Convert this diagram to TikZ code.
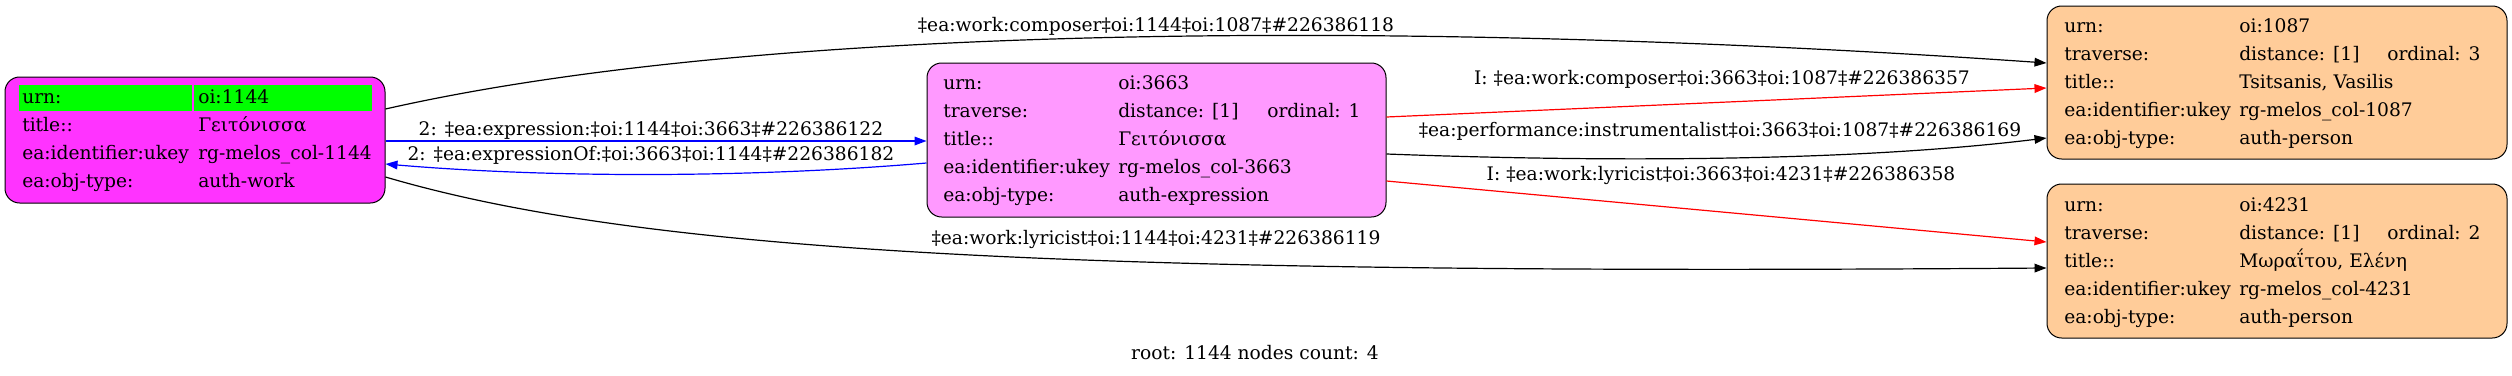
\documentclass[tikz,border=0pt]{standalone}
\usepackage{fontspec}
\setmainfont{DejaVu Serif}
\usetikzlibrary{arrows.meta}
\definecolor{cwork}{HTML}{FF33FF}
\definecolor{cexpr}{HTML}{FF99FF}
\definecolor{cpers}{HTML}{FFCC99}
\definecolor{chead}{HTML}{00FF00}
\definecolor{cblue}{HTML}{0000FF}
\definecolor{cred}{HTML}{FF0000}
\begin{document}
\begin{tikzpicture}[x=0.75pt,y=-0.75pt,font=\fontsize{14}{16}\selectfont,
  box/.style={draw=black,line width=0.75pt,rounded corners=11pt,inner sep=0pt},
  txt/.style={anchor=base west,inner sep=0pt},
  lbl/.style={anchor=base,inner sep=0pt},
  conn/.style={line width=0.9pt,-{Triangle[length=9pt,width=6.5pt]}}]
\useasboundingbox (0,0) rectangle (2512,375);
\fill[white] (0,0) rectangle (2512,375);

% boxes
\node[box,fill=cwork,minimum width=285pt,minimum height=94.5pt] (n1144) at (195,140) {};
\node[box,fill=cexpr,minimum width=344.25pt,minimum height=115.5pt] (n3663) at (1156.5,140) {};
\node[box,fill=cpers,minimum width=345pt,minimum height=114.75pt] (n1087) at (2277,82.5) {};
\node[box,fill=cpers,minimum width=345pt,minimum height=115.5pt] (n4231) at (2277,261) {};

% header cells of root
\node[fill=chead,inner sep=0pt,minimum width=129.75pt,minimum height=19.5pt] (h1) at (105.5,98) {};
\node[fill=chead,inner sep=0pt,minimum width=133.5pt,minimum height=19.5pt] (h2) at (283,98) {};

% node 1144 text
\node[txt] (a1) at (22,103) {urn:};
\node[txt] (a2) at (198,103) {oi:1144};
\node[txt] (a3) at (22,131) {title::};
\node[txt] (a4) at (198,131) {Γειτόνισσα};
\node[txt] (a5) at (22,159) {ea:identifier:ukey};
\node[txt] (a6) at (198,159) {rg-melos\_col-1144};
\node[txt] (a7) at (22,187) {ea:obj-type:};
\node[txt] (a8) at (198,187) {auth-work};

% node 3663 text
\node[txt] (b1) at (943,89) {urn:};
\node[txt] (b2) at (1118,89) {oi:3663};
\node[txt] (b3) at (943,117) {traverse:};
\node[txt] (b4) at (1118,117) {distance: [1]};
\node[txt] (b5) at (1267,117) {ordinal: 1};
\node[txt] (b6) at (943,145) {title::};
\node[txt] (b7) at (1118,145) {Γειτόνισσα};
\node[txt] (b8) at (943,173) {ea:identifier:ukey};
\node[txt] (b9) at (1118,173) {rg-melos\_col-3663};
\node[txt] (b10) at (943,201) {ea:obj-type:};
\node[txt] (b11) at (1118,201) {auth-expression};

% node 1087 text
\node[txt] (c1) at (2064,32) {urn:};
\node[txt] (c2) at (2239,32) {oi:1087};
\node[txt] (c3) at (2064,60) {traverse:};
\node[txt] (c4) at (2239,60) {distance: [1]};
\node[txt] (c5) at (2387,60) {ordinal: 3};
\node[txt] (c6) at (2064,88) {title::};
\node[txt] (c7) at (2239,88) {Tsitsanis, Vasilis};
\node[txt] (c8) at (2064,116) {ea:identifier:ukey};
\node[txt] (c9) at (2239,116) {rg-melos\_col-1087};
\node[txt] (c10) at (2064,144) {ea:obj-type:};
\node[txt] (c11) at (2239,144) {auth-person};

% node 4231 text
\node[txt] (d1) at (2064,211) {urn:};
\node[txt] (d2) at (2239,211) {oi:4231};
\node[txt] (d3) at (2064,239) {traverse:};
\node[txt] (d4) at (2239,239) {distance: [1]};
\node[txt] (d5) at (2387,239) {ordinal: 2};
\node[txt] (d6) at (2064,267) {title::};
\node[txt] (d7) at (2239,267) {Μωραΐτου, Ελένη};
\node[txt] (d8) at (2064,295) {ea:identifier:ukey};
\node[txt] (d9) at (2239,295) {rg-melos\_col-4231};
\node[txt] (d10) at (2064,323) {ea:obj-type:};
\node[txt] (d11) at (2239,323) {auth-person};

% connectors
\draw[conn,black] ([shift={(0,-31)}]n1144.east) .. controls (800,15) and (1500,25) .. ([shift={(0,-19.5)}]n1087.west);
\draw[conn,cblue] ([shift={(0,1)}]n1144.east) -- ([shift={(0,1)}]n3663.west);
\draw[conn,cblue] ([shift={(0,23)}]n3663.west) .. controls (750,178) and (550,178) .. ([shift={(0,24)}]n1144.east);
\draw[conn,black] ([shift={(0,37)}]n1144.east) .. controls (650,255) and (1100,275) .. ([shift={(0,7)}]n4231.west);
\draw[conn,cred] ([shift={(0,-23)}]n3663.east) -- ([shift={(0,5.5)}]n1087.west);
\draw[conn,black] ([shift={(0,14)}]n3663.east) .. controls (1600,162) and (1850,162) .. ([shift={(0,55.5)}]n1087.west);
\draw[conn,cred] ([shift={(0,41)}]n3663.east) -- ([shift={(0,-19)}]n4231.west);

% labels
\node[lbl] (lA) at (1156,31) {‡ea:work:composer‡oi:1144‡oi:1087‡\#226386118};
\node[lbl] (lB) at (651,135) {2: ‡ea:expression:‡oi:1144‡oi:3663‡\#226386122};
\node[lbl] (lR) at (651,160) {2: ‡ea:expressionOf:‡oi:3663‡oi:1144‡\#226386182};
\node[lbl] (lC) at (1156,244) {‡ea:work:lyricist‡oi:1144‡oi:4231‡\#226386119};
\node[lbl] (lD) at (1722,84) {I: ‡ea:work:composer‡oi:3663‡oi:1087‡\#226386357};
\node[lbl] (lE) at (1720,136) {‡ea:performance:instrumentalist‡oi:3663‡oi:1087‡\#226386169};
\node[lbl] (lF) at (1721,180) {I: ‡ea:work:lyricist‡oi:3663‡oi:4231‡\#226386358};
\node[lbl] (root) at (1255,359) {root: 1144 nodes count: 4};
\end{tikzpicture}
\end{document}
